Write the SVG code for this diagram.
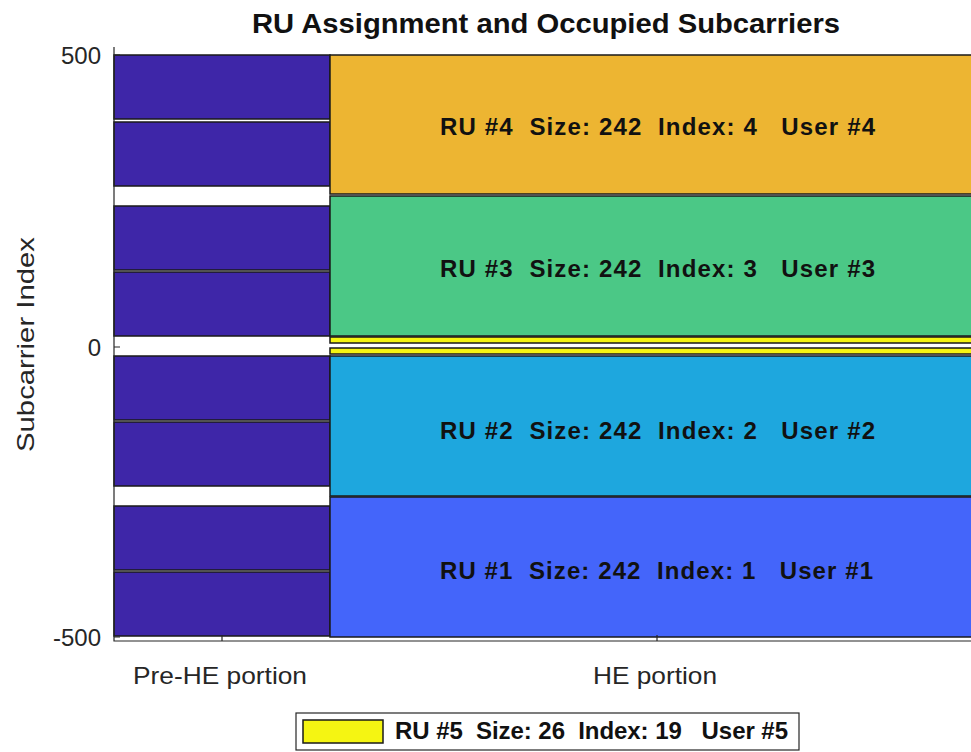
<svg xmlns="http://www.w3.org/2000/svg" width="971" height="752" viewBox="0 0 971 752">
<style>
  .pre { fill: #3e26a8; stroke: #1a1a1a; stroke-width: 1.5; }
  .ru { stroke: #1a1a1a; stroke-width: 1.5; }
  .lbl { font-family: "Liberation Sans", Arial, sans-serif; font-weight: bold; font-size: 24px; fill: #111; }
  .tick { font-family: "Liberation Sans", Arial, sans-serif; font-size: 24px; fill: #262626; }
  .axis { stroke: #262626; stroke-width: 1.2; fill: none; }
</style>
<rect width="971" height="752" fill="#ffffff"/>
<text x="252" y="33" textLength="588" lengthAdjust="spacingAndGlyphs" font-family="Liberation Sans, Arial, sans-serif" font-weight="bold" font-size="27" fill="#111">RU Assignment and Occupied Subcarriers</text>

<g id="pre-he">
  <rect class="pre" x="114" y="55" width="216" height="64"/>
  <rect class="pre" x="114" y="122" width="216" height="64"/>
  <rect class="pre" x="114" y="206" width="216" height="64"/>
  <rect class="pre" x="114" y="272" width="216" height="64"/>
  <rect class="pre" x="114" y="356" width="216" height="64"/>
  <rect class="pre" x="114" y="422" width="216" height="64"/>
  <rect class="pre" x="114" y="506" width="216" height="64"/>
  <rect class="pre" x="114" y="572" width="216" height="64"/>
</g>

<g id="ru4">
  <rect class="ru" x="330" y="55" width="650" height="139" fill="#edb532"/>
  <text class="lbl" x="440" y="135" textLength="435" lengthAdjust="spacing" xml:space="preserve">RU #4  Size: 242  Index: 4   User #4</text>
</g>
<g id="ru3">
  <rect class="ru" x="330" y="196" width="650" height="140" fill="#4bc886"/>
  <text class="lbl" x="440" y="277" textLength="435" lengthAdjust="spacing" xml:space="preserve">RU #3  Size: 242  Index: 3   User #3</text>
</g>
<g id="ru5">
  <rect class="ru" x="330" y="337" width="650" height="6" fill="#f5f512"/>
  <rect class="ru" x="330" y="348" width="650" height="6" fill="#f5f512"/>
</g>
<g id="ru2">
  <rect class="ru" x="330" y="356" width="650" height="140" fill="#1ea7de"/>
  <text class="lbl" x="440" y="439" textLength="435" lengthAdjust="spacing" xml:space="preserve">RU #2  Size: 242  Index: 2   User #2</text>
</g>
<g id="ru1">
  <rect class="ru" x="330" y="497" width="650" height="140" fill="#4465fa"/>
  <text class="lbl" x="440" y="579" textLength="433" lengthAdjust="spacing" xml:space="preserve">RU #1  Size: 242  Index: 1   User #1</text>
</g>

<g id="axes">
  <path class="axis" d="M114,47 V641 H971"/>
  <path class="axis" d="M114,55 h6 M114,347 h6 M114,637 h6 M222,641 v-6 M657,641 v-6"/>
  <text class="tick" x="101" y="64" text-anchor="end">500</text>
  <text class="tick" x="101" y="356" text-anchor="end">0</text>
  <text class="tick" x="101" y="646" text-anchor="end">-500</text>
  <text class="tick" x="133" y="684" textLength="174" lengthAdjust="spacingAndGlyphs">Pre-HE portion</text>
  <text class="tick" x="593" y="684" textLength="124" lengthAdjust="spacingAndGlyphs">HE portion</text>
  <text class="tick" transform="translate(34,452) rotate(-90)" textLength="215" lengthAdjust="spacingAndGlyphs">Subcarrier Index</text>
</g>

<g id="legend">
  <rect x="296" y="713" width="503" height="37" fill="#ffffff" stroke="#262626" stroke-width="1.2"/>
  <rect x="303" y="720" width="80" height="23" fill="#f5f512" stroke="#1a1a1a" stroke-width="1.5"/>
  <text class="lbl" x="395" y="739" font-size="22" textLength="393" lengthAdjust="spacing" xml:space="preserve">RU #5  Size: 26  Index: 19   User #5</text>
</g>
</svg>
